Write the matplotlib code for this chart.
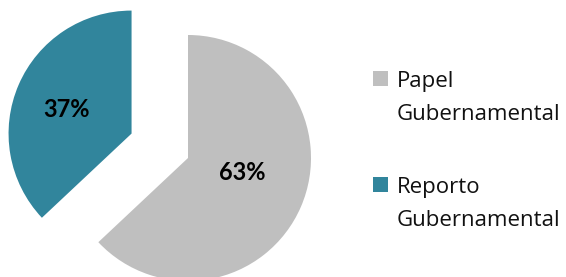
import matplotlib.pyplot as plt
from matplotlib.patches import Rectangle

# Datos
categorias = ['Papel Gubernamental', 'Reporto Gubernamental']
valores = [63, 37]
colores = ['#BFBFBF', '#31859C']
separacion = [0, 0.5]

plt.rcParams['font.family'] = ['Lato', 'DejaVu Sans']

fig = plt.figure(figsize=(5.66, 2.77), dpi=100)
ax = fig.add_axes([0, 0, 1, 1])

wedges, textos, pcts = ax.pie(
    valores, colors=colores, explode=separacion, startangle=90,
    counterclock=False, autopct='%1.0f%%', pctdistance=0.5,
    textprops={'fontsize': 17, 'fontweight': 'bold', 'color': 'black'},
    wedgeprops={'linewidth': 0})

# posicion de las etiquetas (como en Excel)
pos_etiquetas = [(0.437, -0.179), (-0.984, 0.336)]
for t, p in zip(pcts, pos_etiquetas):
    t.set_position(p)
    t.set_va('baseline')

ax.set_xlim(-188 / 123, 378 / 123)
ax.set_ylim(-119 / 123, 158 / 123)
ax.set_aspect('equal')
ax.axis('off')

# Leyenda
W, H = 566, 277
for i, (lab, col) in enumerate(zip(categorias, colores)):
    base = 87 + 106 * i
    fig.patches.append(Rectangle((373 / W, 1 - (base - 1) / H), 15 / W, 15 / H,
                                 transform=fig.transFigure, facecolor=col,
                                 edgecolor='none'))
    for j, linea in enumerate(lab.split(' ')):
        fig.text(396.5 / W, 1 - (base + 32.5 * j) / H, linea,
                 family=['Open Sans', 'DejaVu Sans'], fontsize=16,
                 va='baseline', ha='left', color='#111111')

fig.savefig('out.png', dpi=100, facecolor='white')
